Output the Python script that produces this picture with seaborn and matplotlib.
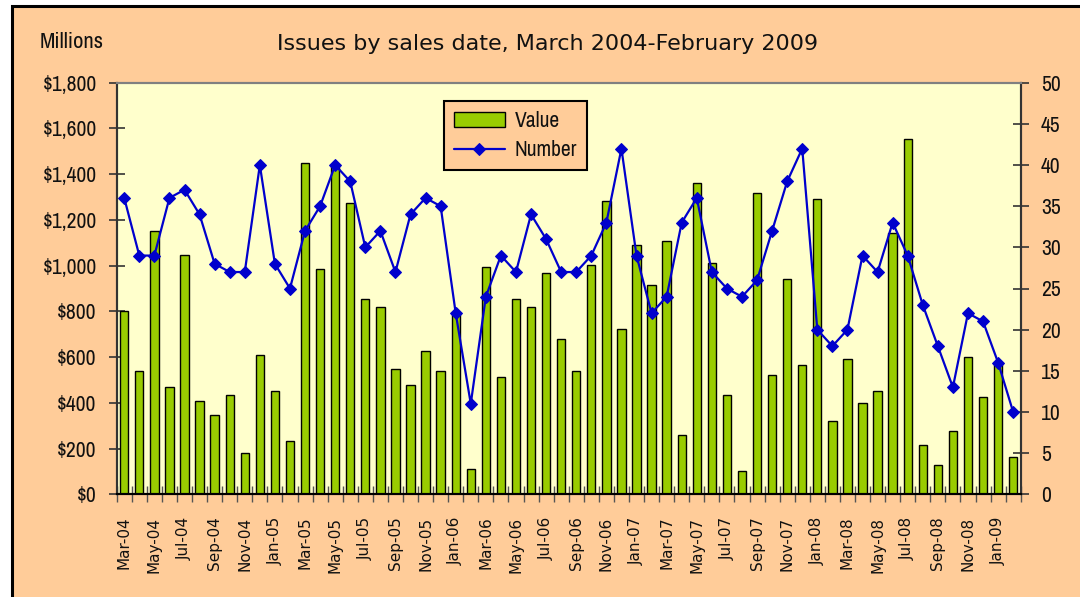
import numpy as np
import pandas as pd
import matplotlib
matplotlib.use("Agg")
import matplotlib.pyplot as plt
import seaborn as sns
from matplotlib import font_manager
from matplotlib.patches import Rectangle
from matplotlib.ticker import FuncFormatter, MultipleLocator, FixedLocator

# ---------------- data ----------------
months = [
    "Mar-04", "Apr-04", "May-04", "Jun-04", "Jul-04", "Aug-04", "Sep-04", "Oct-04", "Nov-04", "Dec-04",
    "Jan-05", "Feb-05", "Mar-05", "Apr-05", "May-05", "Jun-05", "Jul-05", "Aug-05", "Sep-05", "Oct-05",
    "Nov-05", "Dec-05", "Jan-06", "Feb-06", "Mar-06", "Apr-06", "May-06", "Jun-06", "Jul-06", "Aug-06",
    "Sep-06", "Oct-06", "Nov-06", "Dec-06", "Jan-07", "Feb-07", "Mar-07", "Apr-07", "May-07", "Jun-07",
    "Jul-07", "Aug-07", "Sep-07", "Oct-07", "Nov-07", "Dec-07", "Jan-08", "Feb-08", "Mar-08", "Apr-08",
    "May-08", "Jun-08", "Jul-08", "Aug-08", "Sep-08", "Oct-08", "Nov-08", "Dec-08", "Jan-09", "Feb-09",
]
value_millions = [
    800, 540, 1153, 470, 1048, 409, 348, 436, 182, 610,
    453, 234, 1450, 987, 1440, 1275, 855, 820, 549, 479,
    628, 540, 790, 112, 995, 514, 855, 820, 969, 680,
    540, 1004, 1284, 724, 1091, 917, 1109, 261, 1360, 1013,
    436, 103, 1319, 523, 943, 567, 1293, 322, 593, 401,
    453, 1144, 1555, 217, 129, 278, 602, 427, 575, 164,
]
number_issues = [
    36, 29, 29, 36, 37, 34, 28, 27, 27, 40,
    28, 25, 32, 35, 40, 38, 30, 32, 27, 34,
    36, 35, 22, 11, 24, 29, 27, 34, 31, 27,
    27, 29, 33, 42, 29, 22, 24, 33, 36, 27,
    25, 24, 26, 32, 38, 42, 20, 18, 20, 29,
    27, 33, 29, 23, 18, 13, 22, 21, 16, 10,
]
tick_labels = months[::2]

df = pd.DataFrame({"month": months, "value": value_millions,
                   "number": number_issues, "pos": np.arange(len(months))})

# ---------------- style ----------------
sns.set_style("ticks")
names = {f.name for f in font_manager.fontManager.ttflist}
NARROW = "Liberation Sans"
for cand in ["Liberation Sans Narrow", "Archivo Narrow", "Arial Narrow"]:
    if cand in names:
        NARROW = cand
        break
plt.rcParams["font.family"] = ["DejaVu Sans"]

PEACH = "#FFCC99"
PLOT_BG = "#FFFFCC"
BAR = "#99CC00"
LINE = "#0000CC"
DARK = "#333333"
TXT = "#111111"

fig = plt.figure(figsize=(10.8, 5.97), dpi=100, facecolor="white")
fig.patches.append(Rectangle((12 / 1080, -0.1), 1.2, 1 - 5.5 / 597 + 0.1,
                             transform=fig.transFigure, facecolor=PEACH,
                             edgecolor="black", linewidth=2.2, zorder=-10))

ax = fig.add_axes([116.7 / 1080, 1 - 494.3 / 597, (1020.7 - 116.7) / 1080, (494.3 - 82.7) / 597])
ax.set_facecolor(PLOT_BG)

sns.barplot(data=df, x="month", y="value", ax=ax, color=BAR, saturation=1,
            edgecolor="black", linewidth=1.0, width=0.55, label="Value")

ax2 = ax.twinx()
sns.lineplot(data=df, x="pos", y="number", ax=ax2, color=LINE, linewidth=1.6,
             marker="D", markersize=6.5, markeredgecolor=LINE, markerfacecolor=LINE,
             label="Number")

ax.set_xlim(-0.5, len(months) - 0.5)
ax.set_ylim(0, 1800)
ax2.set_ylim(0, 50)
ax.yaxis.set_major_locator(MultipleLocator(200))
ax2.yaxis.set_major_locator(MultipleLocator(5))
ax.yaxis.set_major_formatter(FuncFormatter(lambda v, p: f"${v:,.0f}"))

ax.set_xticks(np.arange(0, len(months), 2))
ax.set_xticklabels(tick_labels, rotation=90, fontsize=11, family="DejaVu Sans", color=TXT)
ax.xaxis.set_minor_locator(FixedLocator(np.arange(-0.5, len(months), 1)))
ax.tick_params(axis="x", which="major", length=0, pad=16)
ax.tick_params(axis="x", which="minor", direction="inout", length=12, width=1, color="#555555")
ax.tick_params(axis="y", direction="inout", length=12, width=1.2, color=DARK, pad=8.4)
ax2.tick_params(axis="y", direction="inout", length=12, width=1.2, color=DARK, pad=8.6)
for lab in ax.get_yticklabels() + ax2.get_yticklabels():
    lab.set_family(NARROW)
    lab.set_fontsize(15.5)
    lab.set_color(TXT)

ax.set_xlabel("")
ax.set_ylabel("")
ax2.set_xlabel("")
ax2.set_ylabel("")

for a in (ax, ax2):
    a.spines["top"].set_color("#808080")
    a.spines["top"].set_linewidth(1.5)
    a.spines["left"].set_color(DARK)
    a.spines["left"].set_linewidth(1.5)
    a.spines["right"].set_color(DARK)
    a.spines["right"].set_linewidth(1.5)
    a.spines["bottom"].set_color("black")
    a.spines["bottom"].set_linewidth(1.5)

# legend
h1, l1 = ax.get_legend_handles_labels()
h2, l2 = ax2.get_legend_handles_labels()
if ax.get_legend() is not None:
    ax.get_legend().remove()
leg = ax2.legend(h1 + h2, l1 + l2, loc="upper left", bbox_to_anchor=(0.362, 0.9555),
                 borderaxespad=0, frameon=True, fancybox=False, framealpha=1,
                 facecolor=PEACH, edgecolor="black", prop={"family": NARROW, "size": 15.5},
                 handlelength=2.4, handletextpad=0.45, labelspacing=0.45,
                 borderpad=0.45)
leg.get_frame().set_linewidth(1.5)
for t in leg.get_texts():
    t.set_color(TXT)

fig.text(548 / 1080, 1 - 44 / 597, "Issues by sales date, March 2004-February 2009",
         ha="center", va="center", fontsize=16, family="DejaVu Sans", color=TXT)
fig.text(40 / 1080, 1 - 42 / 597, "Millions", ha="left", va="center",
         fontsize=16.3, family=NARROW, color=TXT)

fig.savefig("out.png", dpi=100, facecolor=fig.get_facecolor())
